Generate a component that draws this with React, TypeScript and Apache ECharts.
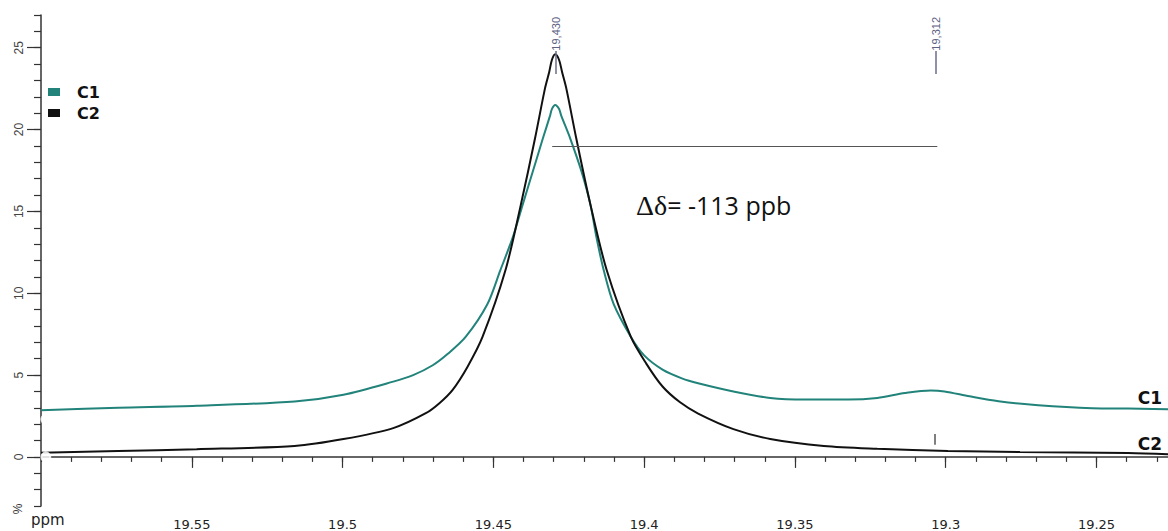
import React, { useEffect, useRef } from 'react';
import * as echarts from 'echarts';

// ---------- data (ppm, %) ----------
const seriesNames = ['C1', 'C2'];

const c1Data: [number, number][] = [
  [19.6, 2.85], [19.5744, 3.0], [19.5484, 3.12], [19.5159, 3.39], [19.4997, 3.8],
  [19.4832, 4.6], [19.4766, 5.0], [19.4701, 5.6], [19.4651, 6.3], [19.4592, 7.33],
  [19.452, 9.33], [19.4477, 11.4], [19.4436, 13.4], [19.4403, 15.4], [19.4369, 17.45],
  [19.4336, 19.45], [19.4312, 20.85], [19.4306, 21.25], [19.4295, 21.5], [19.4282, 21.25],
  [19.4275, 20.85], [19.4245, 19.45], [19.4208, 17.45], [19.4178, 15.4], [19.4158, 13.4],
  [19.4134, 11.4], [19.4101, 9.33], [19.4044, 7.33], [19.4, 6.2], [19.3939, 5.33],
  [19.3875, 4.8], [19.3821, 4.5], [19.3704, 4.0], [19.3582, 3.6], [19.3465, 3.5],
  [19.3323, 3.5], [19.3227, 3.6], [19.3135, 3.9], [19.305, 4.06], [19.3004, 4.0],
  [19.2921, 3.7], [19.2825, 3.4], [19.2693, 3.15], [19.2514, 2.97], [19.2396, 2.95],
  [19.22, 2.9],
];

const c2Data: [number, number][] = [
  [19.6, 0.26], [19.5744, 0.36], [19.5484, 0.47], [19.5159, 0.67], [19.4997, 1.09],
  [19.4832, 1.76], [19.4724, 2.67], [19.4678, 3.3], [19.4635, 4.1], [19.4586, 5.5],
  [19.4536, 7.33], [19.446, 11.4], [19.4409, 15.4], [19.4362, 19.45], [19.4329, 22.5],
  [19.4315, 23.5], [19.4306, 24.25], [19.4295, 24.6], [19.4282, 24.25], [19.4272, 23.5],
  [19.4258, 22.5], [19.4225, 19.45], [19.4178, 15.4], [19.4124, 11.4], [19.4044, 7.33],
  [19.3993, 5.7], [19.3939, 4.3], [19.3882, 3.35], [19.3821, 2.65], [19.3704, 1.7],
  [19.3582, 1.1], [19.3404, 0.67], [19.3227, 0.5], [19.2993, 0.36], [19.2754, 0.3],
  [19.2396, 0.24], [19.22, 0.12],
];

const xMajorTicks = [19.55, 19.5, 19.45, 19.4, 19.35, 19.3, 19.25];
const yMajorTicks = [0, 5, 10, 15, 20, 25];
// minor tick positions: every 0.01 ppm and every 1 %
const xMinorTicks = Array.from({ length: 39 }, (_, i) => Math.round((19.22 + i * 0.01) * 100) / 100);
const yMinorTicks = Array.from({ length: 31 }, (_, i) => i - 3);

const peakLabels = ['19,430', '19,312'];
const peakLabelPpm = [19.4292, 19.3032];
const peakLabelLevel = 25.85;
const peakMarkerRange = [23.4, 24.8];

const shiftLine: [number, number][] = [[19.4305, 19.0], [19.3028, 19.0]];
const c2Tick: [number, number][] = [[19.3035, 0.75], [19.3035, 1.4]];
const refMarkers: [number, number][] = [[19.5984, 2.3], [19.5984, 0.0]];
const shiftText = '= -113 ppb';
const shiftSymbol = 'Δδ';

const C1_COLOR = '#21837a';
const C2_COLOR = '#111111';
const AXIS_COLOR = '#333333';

export default function App() {
  const ref = useRef<HTMLDivElement>(null);

  useEffect(() => {
    if (!ref.current) return;
    const chart = echarts.init(ref.current, null, { renderer: 'svg' });

    const xBase = {
      type: 'value',
      min: 19.22,
      max: 19.6,
      inverse: true,
      position: 'bottom',
      splitLine: { show: false },
      gridIndex: 0,
    };
    const yBase = {
      type: 'value',
      min: -3,
      max: 27,
      position: 'left',
      splitLine: { show: false },
      gridIndex: 0,
    };

    chart.setOption({
      animation: false,
      backgroundColor: '#ffffff',
      grid: { left: 41, top: 15, width: 1146, height: 495, containLabel: false },
      legend: {
        data: seriesNames,
        orient: 'vertical',
        left: 43,
        top: 79,
        icon: 'rect',
        itemWidth: 12,
        itemHeight: 8,
        itemGap: 5,
        textStyle: {
          fontSize: 16,
          fontWeight: 'bold',
          fontFamily: 'DejaVu Sans',
          color: '#111',
          padding: [0, 0, 0, 12],
        },
      },
      xAxis: [
        {
          ...xBase,
          axisLine: { show: true, lineStyle: { color: AXIS_COLOR, width: 1.5 } },
          axisTick: { show: true, length: 5, customValues: xMinorTicks, lineStyle: { color: AXIS_COLOR, width: 1.2 } },
          axisLabel: { show: true, customValues: xMinorTicks, formatter: () => '' },
        },
        {
          ...xBase,
          axisLine: { show: false },
          axisTick: { show: true, length: 11, customValues: xMajorTicks, lineStyle: { color: AXIS_COLOR, width: 1.2 } },
          axisLabel: {
            show: true,
            customValues: xMajorTicks,
            margin: 12,
            fontSize: 13,
            fontFamily: 'DejaVu Sans',
            color: '#222',
            formatter: (v: number) => String(Math.round(v * 100) / 100),
          },
        },
      ],
      yAxis: [
        {
          ...yBase,
          axisLine: { show: true, lineStyle: { color: AXIS_COLOR, width: 1.5 } },
          axisTick: { show: true, length: 7, customValues: yMinorTicks, lineStyle: { color: AXIS_COLOR, width: 1.2 } },
          axisLabel: { show: true, customValues: yMinorTicks, formatter: () => '' },
        },
        {
          ...yBase,
          axisLine: { show: false },
          axisTick: { show: true, length: 14, customValues: yMajorTicks, lineStyle: { color: AXIS_COLOR, width: 1.2 } },
          axisLabel: {
            show: true,
            customValues: yMajorTicks,
            rotate: 90,
            margin: 16,
            fontSize: 12,
            fontFamily: 'Liberation Sans',
            color: '#444',
          },
        },
      ],
      series: [
        {
          name: seriesNames[0],
          type: 'line',
          data: c1Data,
          xAxisIndex: 0,
          yAxisIndex: 0,
          showSymbol: false,
          smooth: 0.3,
          color: C1_COLOR,
          lineStyle: { color: C1_COLOR, width: 2 },
          z: 3,
        },
        {
          name: seriesNames[1],
          type: 'line',
          data: c2Data,
          xAxisIndex: 0,
          yAxisIndex: 0,
          showSymbol: false,
          smooth: 0.3,
          color: C2_COLOR,
          lineStyle: { color: C2_COLOR, width: 2 },
          z: 4,
          markLine: {
            silent: true,
            symbol: ['none', 'none'],
            label: { show: false },
            data: [
              [
                { coord: shiftLine[0], lineStyle: { color: '#555', width: 1, type: 'solid' } },
                { coord: shiftLine[1] },
              ],
              [
                { coord: c2Tick[0], lineStyle: { color: '#555', width: 1.5, type: 'solid' } },
                { coord: c2Tick[1] },
              ],
              ...peakLabelPpm.map((p) => [
                { coord: [p, peakMarkerRange[0]], lineStyle: { color: '#6a6e8a', width: 1.5, type: 'solid' } },
                { coord: [p, peakMarkerRange[1]] },
              ]),
            ],
          },
        },
        {
          name: 'ref',
          type: 'scatter',
          data: refMarkers,
          xAxisIndex: 0,
          yAxisIndex: 0,
          symbol: 'emptyCircle',
          symbolSize: 9,
          itemStyle: { color: '#fff', borderColor: '#a5a5dc', borderWidth: 1.5 },
          z: 5,
        },
      ],
    });

    const peakGraphics = peakLabelPpm.map((p, i) => {
      const pt = chart.convertToPixel({ xAxisIndex: 0, yAxisIndex: 0 }, [p, peakLabelLevel]) as number[];
      return {
        type: 'text',
        x: pt[0],
        y: pt[1],
        rotation: Math.PI / 2,
        style: {
          text: peakLabels[i],
          fill: '#5d6283',
          font: '11px "Liberation Sans"',
          textAlign: 'center',
          textVerticalAlign: 'middle',
          align: 'center',
          verticalAlign: 'middle',
        },
        z: 10,
      };
    });

    chart.setOption({
      graphic: [
        ...peakGraphics,
        {
          type: 'text',
          left: 31,
          top: 512,
          style: { text: 'ppm', fill: '#222', font: '15px "DejaVu Sans"' },
        },
        {
          type: 'text',
          x: 18,
          y: 509,
          rotation: Math.PI / 2,
          style: {
            text: '%',
            fill: '#333',
            font: '12px "Liberation Sans"',
            textAlign: 'center',
            textVerticalAlign: 'middle',
            align: 'center',
            verticalAlign: 'middle',
          },
        },
        {
          type: 'text',
          x: 1162,
          y: 398,
          style: {
            text: seriesNames[0],
            fill: '#111',
            font: 'bold 17px "DejaVu Sans"',
            textAlign: 'right',
            textVerticalAlign: 'middle',
            align: 'right',
            verticalAlign: 'middle',
          },
        },
        {
          type: 'text',
          x: 1162,
          y: 444,
          style: {
            text: seriesNames[1],
            fill: '#111',
            font: 'bold 17px "DejaVu Sans"',
            textAlign: 'right',
            textVerticalAlign: 'middle',
            align: 'right',
            verticalAlign: 'middle',
          },
        },
        {
          type: 'text',
          x: 636,
          y: 205,
          style: {
            text: `{d|${shiftSymbol}}{t|${shiftText}}`,
            rich: {
              d: { fontFamily: 'Liberation Serif', fontSize: 28, fill: '#111', color: '#111' },
              t: { fontFamily: 'Open Sans', fontSize: 25, fill: '#111', color: '#111' },
            },
            textVerticalAlign: 'middle',
            verticalAlign: 'middle',
          },
        },
      ],
    });

    return () => chart.dispose();
  }, []);

  return (
    <div style={{ position: 'absolute', left: 0, top: 0, width: 1168, height: 531, overflow: 'hidden', background: '#fff' }}>
      <div ref={ref} style={{ width: 1200, height: 531 }} />
    </div>
  );
}
